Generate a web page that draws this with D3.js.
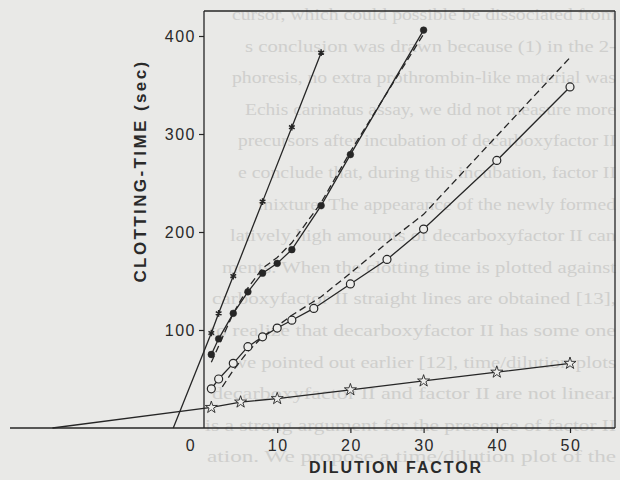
<!DOCTYPE html>
<html>
<head>
<meta charset="utf-8">
<script src="https://cdn.jsdelivr.net/npm/d3@7"></script>
<style>
  body { margin: 0; background: #e9e9e7; }
  svg { display: block; }
</style>
</head>
<body>
<svg id="chart"></svg>
<script>
// dilution factors and clotting times (sec)
var asteriskDil = [1, 2, 4, 8, 12, 16];
var asteriskTime = [97, 117, 155, 231, 307, 383];
var asteriskIntercept = -4.2;

var dotDil = [1, 2, 4, 6, 8, 10, 12, 16, 20, 30];
var dotTime = [75, 91, 117, 139, 158, 168, 182, 227, 279, 406];
var dotDashDil = [1, 4, 6, 8, 10, 12, 16, 20, 30];
var dotDashTime = [67, 117, 143, 163, 174, 189, 230, 282, 402];

var circleDil = [1, 2, 4, 6, 8, 10, 12, 15, 20, 25, 30, 40, 50];
var circleTime = [40, 50, 66, 83, 93, 102, 110, 122, 147, 172, 203, 273, 348];
var circleDashDil = [2.5, 4, 6, 8, 10, 12, 16, 20, 25, 30, 40, 50];
var circleDashTime = [42, 59, 78, 93, 104, 115, 134, 158, 189, 218, 298, 378];

var starDil = [1, 5, 10, 20, 30, 40, 50];
var starTime = [21, 26.5, 30, 39, 48, 57, 66];
var starIntercept = -20.7;

var xTicks = [0, 10, 20, 30, 40, 50];
var yTicks = [100, 200, 300, 400];

// show-through text of the printed page behind the figure
var pageLines = [
    "cursor, which could possible be dissociated from",
    "s conclusion was drawn because (1) in the 2-",
    "phoresis, no extra prothrombin-like material was",
    "Echis carinatus assay, we did not measure more",
    "precursors after incubation of decarboxyfactor II",
    "e conclude that, during this incubation, factor II",
    "mixture. The appearance of the newly formed",
    "latively high amounts of decarboxyfactor II can",
    "ments. When the clotting time is plotted against",
    "carboxyfactor II straight lines are obtained [13],",
    "to realize that decarboxyfactor II has some one",
    "we pointed out earlier [12], time/dilution plots",
    "decarboxyfactor II and factor II are not linear.",
    "is a strong argument for the presence of factor II",
    "ation. We propose a time/dilution plot of the"
];
var pageStarts = [232, 245, 232, 245, 238, 238, 258, 230, 222, 212, 210, 232, 212, 205, 207];

var screen = {width: 620, height: 480};
var ink = "#262626";

var svg = d3.select("#chart")
    .attr("width", screen.width)
    .attr("height", screen.height);

var x = d3.scaleLinear().domain([0, 50]).range([204, 570]);
var y = d3.scaleLinear().domain([0, 400]).range([428, 36]);

var zip = function(a, b) { return a.map(function(d, i) { return [d, b[i]]; }); };

var drawPage = function()
    {
        svg.append("g").selectAll("text")
            .data(pageLines)
            .enter().append("text")
            .attr("x", function(d, i) { return pageStarts[i]; })
            .attr("y", function(d, i) { return 20 + 31.6 * i; })
            .attr("textLength", function(d, i) { return 616 - pageStarts[i]; })
            .attr("lengthAdjust", "spacingAndGlyphs")
            .style("font-family", "'Liberation Serif', 'DejaVu Serif', serif")
            .style("font-size", "17px")
            .style("fill", "#cfcfcd")
            .text(function(d) { return d; });
    };

var drawFrame = function()
    {
        var g = svg.append("g").attr("stroke", ink).attr("stroke-width", 1.3).attr("fill", "none");
        g.append("line").attr("x1", 10).attr("x2", 615).attr("y1", y(0)).attr("y2", y(0));
        g.append("line").attr("x1", x(0)).attr("x2", x(0)).attr("y1", y(0)).attr("y2", 11);
        g.append("line").attr("x1", x(0)).attr("x2", 615).attr("y1", 11).attr("y2", 11);
        g.append("line").attr("x1", 615).attr("x2", 615).attr("y1", 11).attr("y2", y(0));

        var xAxis = d3.axisBottom(x).tickValues(xTicks.slice(1)).tickSize(5).tickFormat("");
        svg.append("g").attr("transform", "translate(0," + y(0) + ")").call(xAxis)
            .call(function(g) { g.select(".domain").remove(); g.selectAll("line").attr("stroke", ink).attr("stroke-width", 1.2); });

        var yAxis = d3.axisLeft(y).tickValues(yTicks).tickSize(5).tickFormat("");
        svg.append("g").attr("transform", "translate(" + x(0) + ",0)").call(yAxis)
            .call(function(g) { g.select(".domain").remove(); g.selectAll("line").attr("stroke", ink).attr("stroke-width", 1.2); });

        var labelStyle = function(sel)
            {
                sel.style("font-family", "'Liberation Sans', Arial, sans-serif")
                    .style("font-size", "16px")
                    .style("letter-spacing", "1.5px")
                    .style("fill", "#2a2a2a");
            };

        svg.append("g").selectAll("text")
            .data(xTicks)
            .enter().append("text")
            .attr("x", function(d) { return d === 0 ? x(d) - 13 : x(d) + 1; })
            .attr("y", 451)
            .attr("text-anchor", "middle")
            .call(labelStyle)
            .text(function(d) { return d; });

        svg.append("g").selectAll("text")
            .data(yTicks)
            .enter().append("text")
            .attr("x", 196)
            .attr("y", function(d) { return y(d) + 6; })
            .attr("text-anchor", "end")
            .call(labelStyle)
            .text(function(d) { return d; });

        svg.append("text")
            .attr("transform", "translate(146,171) rotate(-90)")
            .attr("text-anchor", "middle")
            .style("font-family", "'Liberation Sans', Arial, sans-serif")
            .style("font-size", "17px")
            .style("font-weight", "bold")
            .style("letter-spacing", "2.4px")
            .style("fill", "#2a2a2a")
            .text("CLOTTING-TIME (sec)");

        svg.append("text")
            .attr("x", 396)
            .attr("y", 473)
            .attr("text-anchor", "middle")
            .style("font-family", "'Liberation Sans', Arial, sans-serif")
            .style("font-size", "16px")
            .style("font-weight", "bold")
            .style("letter-spacing", "1.9px")
            .style("fill", "#2a2a2a")
            .text("DILUTION FACTOR");
    };

var drawLines = function()
    {
        var line = d3.line().x(function(d) { return x(d[0]); }).y(function(d) { return y(d[1]); });
        var path = function(pts, dash)
            {
                svg.append("path")
                    .attr("d", line(pts))
                    .attr("fill", "none")
                    .attr("stroke", ink)
                    .attr("stroke-width", 1.3)
                    .attr("stroke-dasharray", dash ? "7,4" : null);
            };

        path([[asteriskIntercept, 0]].concat(zip(asteriskDil, asteriskTime)), false);
        path(zip(dotDil, dotTime), false);
        path(zip(dotDashDil, dotDashTime), true);
        path(zip(circleDil, circleTime), false);
        path(zip(circleDashDil, circleDashTime), true);
        path([[starIntercept, 0]].concat(zip(starDil, starTime)), false);

        var sym = function(data, type, size, fill, sw)
            {
                svg.append("g").selectAll("path")
                    .data(data)
                    .enter().append("path")
                    .attr("transform", function(d) { return "translate(" + x(d[0]) + "," + y(d[1]) + ")"; })
                    .attr("d", d3.symbol().type(type).size(size))
                    .attr("fill", fill)
                    .attr("stroke", ink)
                    .attr("stroke-width", sw);
            };

        sym(zip(asteriskDil, asteriskTime), d3.symbolAsterisk, 30, "none", 1.5);
        sym(zip(dotDil, dotTime), d3.symbolCircle, 36, ink, 0.5);
        sym(zip(circleDil, circleTime), d3.symbolCircle, 50, "#ececea", 1.2);
        sym(zip(starDil, starTime), d3.symbolStar, 45, "#ececea", 0.9);
    };

drawPage();
drawFrame();
drawLines();
</script>
</body>
</html>
